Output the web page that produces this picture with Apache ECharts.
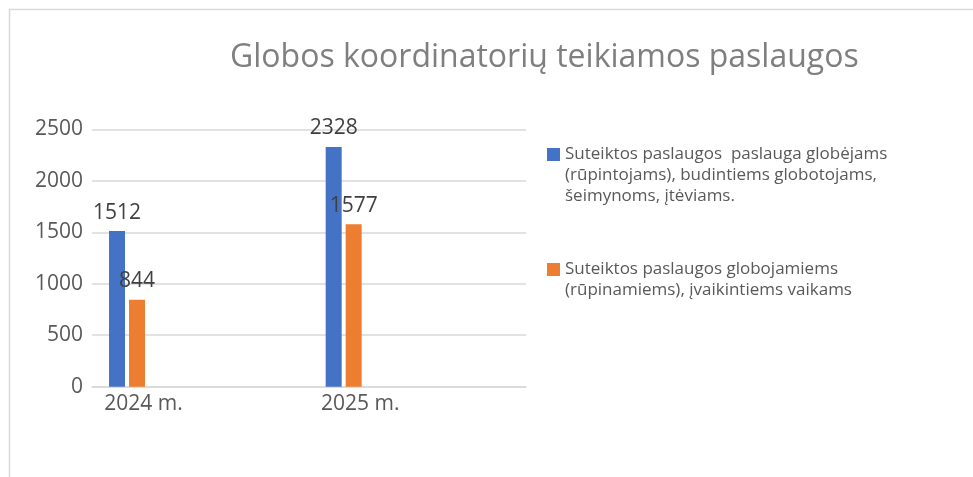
<!DOCTYPE html>
<html>
<head>
<meta charset="utf-8">
<script src="https://cdn.jsdelivr.net/npm/echarts@6/dist/echarts.min.js"></script>
<style>
    html, body { margin: 0; padding: 0; background: #fff; }
    #chart { width: 973px; height: 477px; }
</style>
</head>
<body>
<div id="chart"></div>
<script>
// 数据
var categories = ['2024 m.', '2025 m.'];
var seriesNames = [
    'Suteiktos paslaugos  paslauga globėjams (rūpintojams), budintiems globotojams, šeimynoms, įtėviams.',
    'Suteiktos paslaugos globojamiems (rūpinamiems), įvaikintiems vaikams'
];
var legendLines = [
    ['Suteiktos paslaugos  paslauga globėjams', '(rūpintojams), budintiems globotojams,', 'šeimynoms, įtėviams.'],
    ['Suteiktos paslaugos globojamiems', '(rūpinamiems), įvaikintiems vaikams']
];
var valuesGlobejams = [1512, 2328];
var valuesVaikams = [844, 1577];
var yTicks = [0, 500, 1000, 1500, 2000, 2500];

var FONT = 'Open Sans';
var colors = ['#4472c4', '#ed7d31'];

var chart = echarts.init(document.getElementById('chart'));

//图例：文字首行与色块对齐（前面补空行）
function legendFor(i, top) {
    var lines = legendLines[i];
    var pad = [];
    for (var k = 0; k < lines.length - 1; k++) pad.push('');
    var text = pad.concat(lines).join('\n');
    return {
        show: true,
        data: [seriesNames[i]],
        left: 547,
        top: top,
        padding: 0,
        icon: 'rect',
        itemWidth: 13,
        itemHeight: 13,
        selectedMode: false,
        formatter: function () { return text; },
        textStyle: {
            fontFamily: FONT,
            fontSize: 17,
            lineHeight: 21,
            color: '#595959'
        }
    };
}

var labelStyle = { show: true, position: 'top', distance: 8, fontFamily: FONT, fontSize: 21, color: '#404040' };

var option = {
    animation: false,
    title: {
        text: 'Globos koordinatorių teikiamos paslaugos',
        left: 225,
        top: 37,
        textStyle: { fontFamily: FONT, fontSize: 32, fontWeight: 'normal', color: '#7f7f7f' }
    },
    legend: [legendFor(0, 102), legendFor(1, 238)],
    graphic: [{
        type: 'rect',
        shape: { x: 9.5, y: 9.5, width: 1200, height: 800 },
        style: { fill: null, stroke: '#d9d9d9', lineWidth: 1.5 },
        silent: true
    }],
    grid: [
        // 坐标轴与网格线
        { left: 92, right: 447, top: 129.3, bottom: 90.3 },
        // 柱子所在区域（左移）
        { left: 18.7, right: 521, top: 129.3, bottom: 90.3 }
    ],
    xAxis: [
        {
            gridIndex: 0, type: 'category', data: categories,
            axisLine: { lineStyle: { color: '#d9d9d9', width: 1.5 } },
            axisTick: { show: false },
            axisLabel: { show: false },
            splitLine: { show: false }
        },
        {
            gridIndex: 1, type: 'category', data: categories,
            axisLine: { show: false },
            axisTick: { show: false },
            axisLabel: {
                fontFamily: FONT, fontSize: 21, color: '#595959', margin: 7,
                padding: [0, 0, 0, 33]
            }
        }
    ],
    yAxis: [
        {
            gridIndex: 0, type: 'value', min: yTicks[0], max: yTicks[yTicks.length - 1], interval: 500,
            axisLine: { show: false },
            axisTick: { show: false },
            axisLabel: {
                fontFamily: FONT, fontSize: 21, color: '#595959', margin: 9,
                formatter: function (v) { return String(v); }
            },
            splitLine: { lineStyle: { color: '#d9d9d9', width: 1.5 } }
        },
        {
            gridIndex: 1, type: 'value', min: yTicks[0], max: yTicks[yTicks.length - 1],
            show: false, splitLine: { show: false }
        }
    ],
    series: [
        {
            name: seriesNames[0], type: 'bar', xAxisIndex: 1, yAxisIndex: 1,
            data: valuesGlobejams, barWidth: 16, barGap: '25%',
            itemStyle: { color: colors[0] },
            label: labelStyle
        },
        {
            name: seriesNames[1], type: 'bar', xAxisIndex: 1, yAxisIndex: 1,
            data: valuesVaikams, barWidth: 16, barGap: '25%',
            itemStyle: { color: colors[1] },
            label: labelStyle
        }
    ]
};
chart.setOption(option);
</script>
</body>
</html>
